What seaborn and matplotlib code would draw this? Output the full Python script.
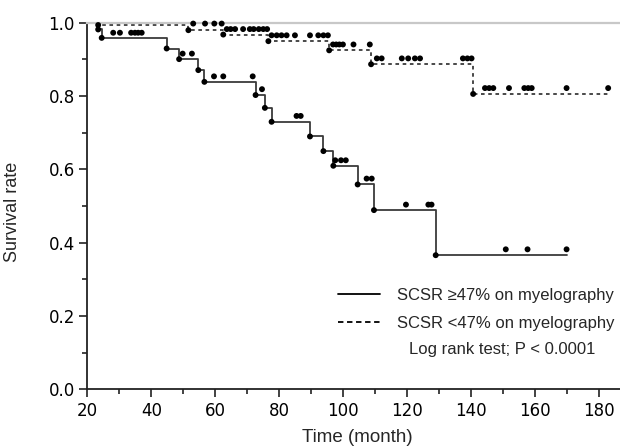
import numpy as np
import pandas as pd
import matplotlib
matplotlib.use("Agg")
import matplotlib.pyplot as plt
import seaborn as sns
from matplotlib.lines import Line2D

# Kaplan-Meier steps (time in months, survival after the drop)
high_start = 23.0
high_event_t = [23.4, 24.5, 44.8, 48.7, 54.7, 56.6, 72.6, 75.5, 77.6, 89.6, 93.8, 96.9, 104.5, 109.6, 128.9]
high_event_s = [0.982, 0.959, 0.930, 0.901, 0.871, 0.839, 0.803, 0.768, 0.730, 0.690, 0.650, 0.610, 0.559, 0.489, 0.366]
high_end = 169.8

low_start = 23.0
low_event_t = [23.4, 51.6, 62.5, 76.6, 95.6, 108.7, 140.6]
low_event_s = [0.994, 0.980, 0.968, 0.950, 0.925, 0.887, 0.806]
low_end = 182.8

# censored marks (drawn a little above the curve in the original)
high_cens_t = [28.1, 30.2, 33.7, 34.9, 35.9, 37.0, 49.8, 52.7, 59.6, 62.5, 71.7, 74.6,
               85.4, 86.7, 97.5, 99.3, 100.8, 107.3, 108.9, 119.6, 126.6, 127.6,
               150.8, 157.6, 169.8]
high_cens_y = [0.973, 0.973, 0.973, 0.973, 0.973, 0.973, 0.916, 0.916, 0.854, 0.854, 0.854, 0.819,
               0.746, 0.746, 0.625, 0.625, 0.625, 0.575, 0.575, 0.504, 0.504, 0.504,
               0.382, 0.382, 0.382]

low_cens_t = [53.1, 56.8, 59.7, 62.0,
              63.6, 64.8, 66.2, 68.7, 70.8, 72.0, 73.6, 75.0, 76.2,
              77.6, 79.2, 80.7, 82.3, 84.9, 89.6, 92.2, 93.8, 95.2,
              96.8, 97.8, 98.8, 99.9, 103.2, 108.3,
              110.5, 112.0, 118.3, 120.3, 122.4, 124.0, 137.4, 138.8, 140.1,
              144.3, 145.6, 146.9, 151.8, 156.6, 157.8, 158.9, 169.8, 182.8]
low_cens_y = [0.998] * 4 + [0.983] * 9 + [0.966] * 9 + [0.941] * 6 + [0.903] * 9 + [0.822] * 9

high_label = "SCSR \u226547% on myelography"
low_label = "SCSR <47% on myelography"


def step_frame(start, ts, ss, end, group):
    t = [start] + list(ts) + [end]
    s = [1.0] + list(ss) + [ss[-1]]
    return pd.DataFrame({"time": t, "surv": s, "group": group})


steps = pd.concat([step_frame(high_start, high_event_t, high_event_s, high_end, "high"),
                   step_frame(low_start, low_event_t, low_event_s, low_end, "low")])
dots = pd.DataFrame({
    "time": high_event_t + high_cens_t + low_event_t + low_cens_t,
    "surv": high_event_s + high_cens_y + low_event_s + low_cens_y,
})

sns.set_style("ticks")
fig = plt.figure(figsize=(6.2, 4.48), dpi=100)
ax = fig.add_axes([0.1408, 0.131, 0.8592, 0.818])

high = steps[steps.group == "high"]
low = steps[steps.group == "low"]
sns.lineplot(data=high, x="time", y="surv", ax=ax, estimator=None, sort=False,
             drawstyle="steps-post", color="#3a3a3a", lw=1.3)
sns.lineplot(data=low, x="time", y="surv", ax=ax, estimator=None, sort=False,
             drawstyle="steps-post", color="#3a3a3a", lw=1.3, linestyle=(0, (2, 2)))
sns.scatterplot(data=dots, x="time", y="surv", ax=ax, color="black", s=18,
                edgecolor="none", clip_on=False, zorder=3)

ax.set_xlim(20, 186.5)
ax.set_ylim(0, 1.0)
ax.set_xticks(np.arange(20, 181, 20))
ax.set_xticks(np.arange(30, 181, 20), minor=True)
ax.set_yticks(np.arange(0, 1.01, 0.2))
ax.set_yticks(np.arange(0.1, 1.0, 0.2), minor=True)
ax.set_yticklabels([f"{v:.1f}" for v in np.arange(0, 1.01, 0.2)])
ax.tick_params(which="major", length=6, width=1.2, color="#222222", labelsize=12,
               labelcolor="black", pad=3)
ax.tick_params(which="minor", length=3.5, width=1.2, color="#222222")
for lab in ax.get_xticklabels() + ax.get_yticklabels():
    lab.set_fontfamily("DejaVu Sans")

for side in ["left", "bottom"]:
    ax.spines[side].set_color("#222222")
    ax.spines[side].set_linewidth(1.3)
ax.spines["top"].set_color("#c8c8c8")
ax.spines["top"].set_linewidth(1.6)
ax.spines["right"].set_visible(False)

ax.set_xlabel("Time (month)", fontsize=13.5, family="Liberation Sans")
ax.set_ylabel("Survival rate", fontsize=13, family="Liberation Sans")
ax.xaxis.set_label_coords(0.507, -0.108)
ax.yaxis.set_label_coords(-0.125, 0.4835)

handles = [Line2D([], [], color="black", lw=1.3),
           Line2D([], [], color="black", lw=1.3, linestyle=(0, (3, 2)))]
ax.legend(handles, [high_label, low_label], loc="upper left",
          bbox_to_anchor=(0.4706, 0.277), frameon=False, borderpad=0,
          borderaxespad=0, handlelength=2.55, handletextpad=1.0, labelspacing=0.78,
          prop={"family": "Liberation Sans", "size": 12})
ax.text(0.778, 0.108, "Log rank test; P < 0.0001", transform=ax.transAxes,
        ha="center", va="center", fontsize=12, family="Liberation Sans")

fig.savefig("out.png", dpi=100)
